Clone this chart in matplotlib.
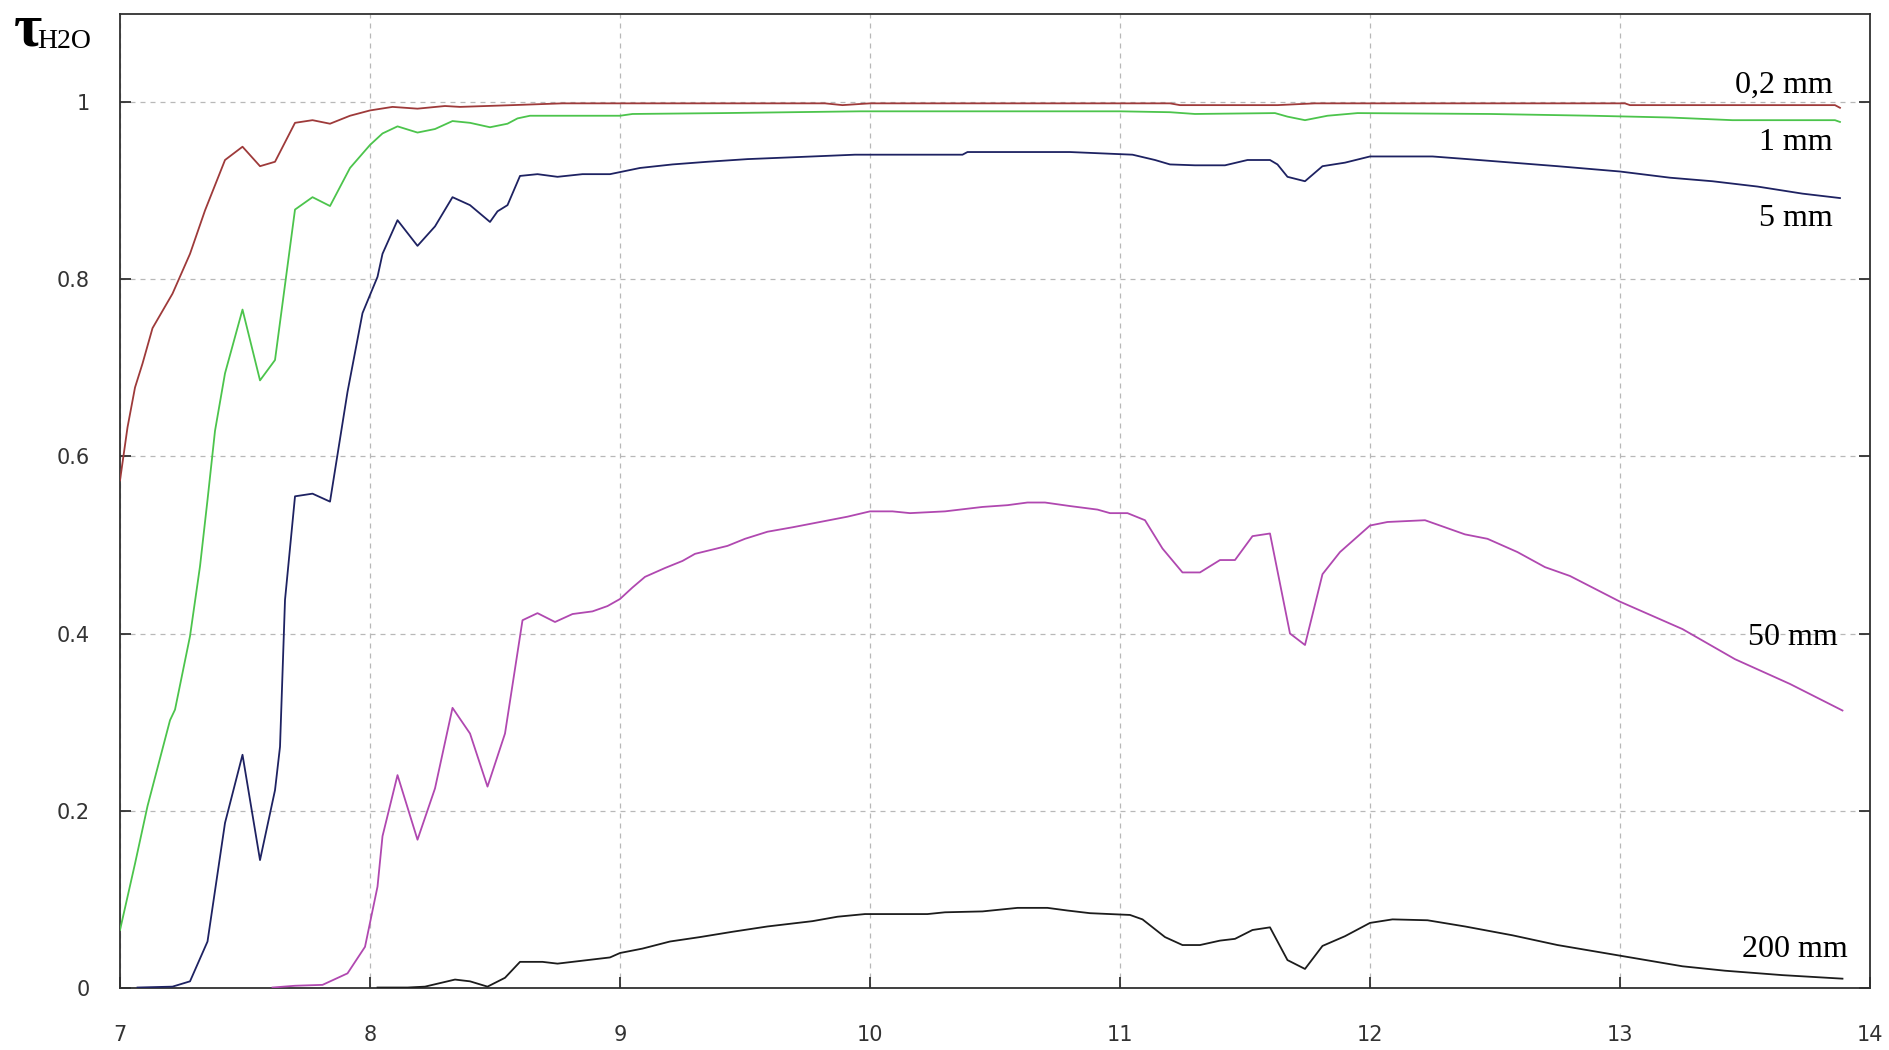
import matplotlib
matplotlib.use("Agg")
import matplotlib.pyplot as plt
from matplotlib.ticker import FixedLocator, FixedFormatter

# ---------------- data ----------------
x_02 = [7.00, 7.03, 7.06, 7.09, 7.13, 7.21, 7.28, 7.34, 7.42, 7.49, 7.56, 7.62, 7.70, 7.77, 7.84,
        7.92, 8.00, 8.09, 8.19, 8.30, 8.36, 8.57, 8.77, 9.82, 9.89, 10.0, 11.2, 11.24, 11.63, 11.78,
        13.02, 13.04, 13.86, 13.88]
y_02 = [0.573, 0.633, 0.678, 0.705, 0.745, 0.784, 0.829, 0.878, 0.935, 0.950, 0.928, 0.933, 0.977, 0.980, 0.976,
        0.985, 0.991, 0.995, 0.993, 0.996, 0.995, 0.997, 0.999, 0.999, 0.997, 0.999, 0.999, 0.997, 0.997, 0.999,
        0.999, 0.997, 0.997, 0.994]

x_1 = [7.00, 7.06, 7.11, 7.20, 7.22, 7.28, 7.32, 7.35, 7.38, 7.42, 7.49, 7.56, 7.62, 7.70, 7.77,
       7.84, 7.92, 8.00, 8.05, 8.11, 8.19, 8.26, 8.33, 8.40, 8.48, 8.55, 8.59, 8.64, 9.00, 9.05,
       9.41, 9.96, 11.0, 11.2, 11.3, 11.62, 11.67, 11.74, 11.83, 11.95, 12.48, 12.89, 13.2, 13.45, 13.86,
       13.88]
y_1 = [0.065, 0.140, 0.205, 0.302, 0.314, 0.397, 0.476, 0.551, 0.629, 0.694, 0.766, 0.686, 0.709, 0.879, 0.893,
       0.883, 0.926, 0.952, 0.965, 0.973, 0.966, 0.970, 0.979, 0.977, 0.972, 0.976, 0.982, 0.985, 0.985, 0.987,
       0.988, 0.990, 0.990, 0.989, 0.987, 0.988, 0.984, 0.980, 0.985, 0.988, 0.987, 0.985, 0.983, 0.980, 0.980,
       0.978]

x_5 = [7.07, 7.21, 7.28, 7.35, 7.42, 7.49, 7.56, 7.62, 7.64, 7.66, 7.70, 7.77, 7.84, 7.91, 7.97,
       8.03, 8.05, 8.11, 8.19, 8.26, 8.33, 8.40, 8.48, 8.51, 8.55, 8.60, 8.67, 8.75, 8.85, 8.96,
       9.08, 9.21, 9.35, 9.51, 9.77, 9.94, 10.37, 10.39, 10.8, 11.05, 11.14, 11.2, 11.3, 11.42, 11.51,
       11.6, 11.63, 11.67, 11.74, 11.81, 11.9, 12.0, 12.25, 12.39, 12.57, 12.75, 13.0, 13.2, 13.37, 13.55,
       13.73, 13.88]
y_5 = [0.000, 0.001, 0.007, 0.052, 0.186, 0.263, 0.144, 0.223, 0.272, 0.438, 0.555, 0.558, 0.549, 0.673, 0.762,
       0.803, 0.829, 0.867, 0.838, 0.860, 0.893, 0.884, 0.865, 0.877, 0.884, 0.917, 0.919, 0.916, 0.919, 0.919,
       0.926, 0.930, 0.933, 0.936, 0.939, 0.941, 0.941, 0.944, 0.944, 0.941, 0.935, 0.930, 0.929, 0.929, 0.935,
       0.935, 0.930, 0.916, 0.911, 0.928, 0.932, 0.939, 0.939, 0.936, 0.932, 0.928, 0.922, 0.915, 0.911, 0.905,
       0.897, 0.892]

x_50 = [7.61, 7.70, 7.81, 7.91, 7.98, 8.03, 8.05, 8.11, 8.19, 8.26, 8.33, 8.40, 8.47, 8.54, 8.61,
        8.67, 8.74, 8.81, 8.89, 8.95, 9.00, 9.05, 9.10, 9.18, 9.25, 9.30, 9.43, 9.50, 9.59, 9.69,
        9.80, 9.91, 10.0, 10.09, 10.16, 10.3, 10.45, 10.55, 10.63, 10.7, 10.8, 10.91, 10.96, 11.03, 11.1,
        11.17, 11.25, 11.32, 11.4, 11.46, 11.53, 11.6, 11.68, 11.74, 11.81, 11.88, 12.0, 12.07, 12.22, 12.38,
        12.47, 12.59, 12.7, 12.8, 13.0, 13.25, 13.46, 13.68, 13.89]
y_50 = [0.000, 0.002, 0.003, 0.016, 0.046, 0.114, 0.171, 0.240, 0.167, 0.225, 0.316, 0.287, 0.227, 0.287, 0.415,
        0.423, 0.413, 0.422, 0.425, 0.431, 0.439, 0.452, 0.464, 0.474, 0.482, 0.490, 0.499, 0.507, 0.515, 0.520,
        0.526, 0.532, 0.538, 0.538, 0.536, 0.538, 0.543, 0.545, 0.548, 0.548, 0.544, 0.540, 0.536, 0.536, 0.528,
        0.496, 0.469, 0.469, 0.483, 0.483, 0.510, 0.513, 0.400, 0.387, 0.467, 0.492, 0.522, 0.526, 0.528, 0.512,
        0.507, 0.492, 0.475, 0.465, 0.436, 0.405, 0.371, 0.343, 0.313]

x_200 = [8.03, 8.15, 8.22, 8.34, 8.40, 8.47, 8.54, 8.60, 8.69, 8.75, 8.84, 8.96, 9.00, 9.09, 9.20,
         9.32, 9.45, 9.59, 9.77, 9.87, 9.98, 10.23, 10.3, 10.45, 10.59, 10.71, 10.79, 10.88, 11.04, 11.09,
         11.18, 11.25, 11.32, 11.4, 11.46, 11.53, 11.6, 11.67, 11.74, 11.81, 11.9, 12.0, 12.09, 12.23, 12.38,
         12.57, 12.75, 13.0, 13.25, 13.42, 13.65, 13.89]
y_200 = [0.000, 0.000, 0.001, 0.009, 0.007, 0.001, 0.011, 0.029, 0.029, 0.027, 0.030, 0.034, 0.039, 0.044, 0.052,
         0.057, 0.063, 0.069, 0.075, 0.080, 0.083, 0.083, 0.085, 0.086, 0.090, 0.090, 0.087, 0.084, 0.082, 0.077,
         0.057, 0.048, 0.048, 0.053, 0.055, 0.065, 0.068, 0.031, 0.021, 0.047, 0.058, 0.073, 0.077, 0.076, 0.069,
         0.059, 0.048, 0.036, 0.024, 0.019, 0.014, 0.010]

series_labels = ["0,2 mm", "1 mm", "5 mm", "50 mm", "200 mm"]
series_colors = ["#9e3a3a", "#4cc44c", "#1e2262", "#b048b0", "#1c1c1c"]
# label anchor (data coords, right-aligned, baseline)
label_pos = [(13.85, 1.011), (13.85, 0.946), (13.85, 0.860), (13.87, 0.387), (13.91, 0.0345)]

x_ticks = [7, 8, 9, 10, 11, 12, 13, 14]
y_ticks = [0, 0.2, 0.4, 0.6, 0.8, 1.0]
y_tick_labels = ["0", "0.2", "0.4", "0.6", "0.8", "1"]

# ---------------- figure ----------------
fig = plt.figure(figsize=(18.9, 10.5), dpi=100)
ax = fig.add_axes([0.0635, 0.0595, 0.9894 - 0.0635, 0.9867 - 0.0595])

xs = [x_02, x_1, x_5, x_50, x_200]
ys = [y_02, y_1, y_5, y_50, y_200]
for xv, yv, c in zip(xs, ys, series_colors):
    ax.plot(xv, yv, color=c, lw=1.3, zorder=3)

serif = ["Liberation Serif", "DejaVu Serif"]
for (lx, ly), lab in zip(label_pos, series_labels):
    ax.text(lx, ly, lab, ha="right", va="baseline", fontsize=23, family=serif, color="black", zorder=4)

ax.set_xlim(7, 14)
ax.set_ylim(0, 1.1)
ax.xaxis.set_major_locator(FixedLocator(x_ticks))
ax.yaxis.set_major_locator(FixedLocator(y_ticks))
ax.yaxis.set_major_formatter(FixedFormatter(y_tick_labels))

ax.grid(True, color="#b8b8b8", linestyle=(0, (4, 4)), linewidth=0.9, zorder=1)

for s in ax.spines.values():
    s.set_color("#303030")
    s.set_linewidth(1.3)

narrow = ["Liberation Sans Narrow", "DejaVu Sans"]
ax.tick_params(axis="both", direction="in", length=8, width=1.3, color="#303030",
               labelsize=15, labelcolor="#333333")
ax.tick_params(axis="y", right=True, pad=22)
ax.tick_params(axis="x", pad=27)
for lbl in ax.get_xticklabels() + ax.get_yticklabels():
    lbl.set_family(narrow)

# axis title tau_H2O (top-left)
fig.text(14 / 1890, 1 - 46 / 1050, "τ", fontsize=44, family=serif, weight="bold",
         va="baseline", ha="left")
fig.text(37 / 1890, 1 - 48 / 1050, "H2O", fontsize=20, family=serif, va="baseline", ha="left")

fig.savefig("out.png", dpi=100, facecolor="white")
